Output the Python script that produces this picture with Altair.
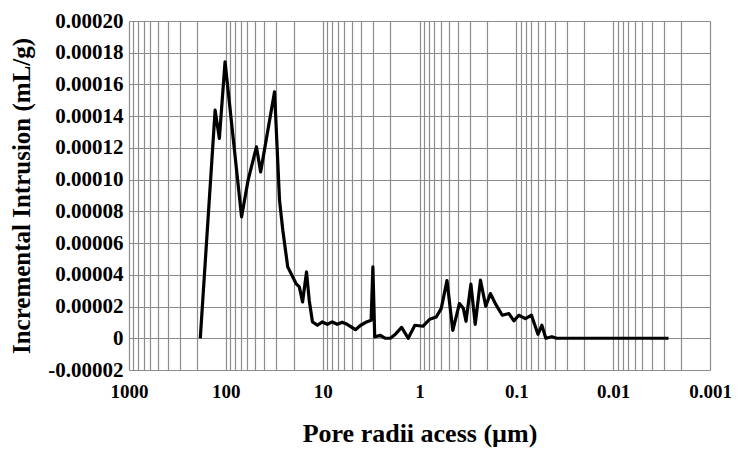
import altair as alt
import pandas as pd

# Pore radius (µm) and incremental intrusion (mL/g)
radius = [183.6, 129.0, 116.6, 101.9, 68.8, 58.9, 48.3, 43.7, 31.4, 27.9,
          25.8, 22.96, 18.84, 17.43, 16.13, 14.68, 13.77, 12.74, 11.33, 10.07,
          8.95, 7.96, 7.07, 6.29, 5.59, 4.59, 4.05, 3.52, 3.16, 3.03,
          2.90, 2.55, 2.25, 2.0, 1.776, 1.531, 1.308, 1.117, 0.919, 0.785,
          0.672, 0.597, 0.520, 0.453, 0.387, 0.352, 0.331, 0.2946, 0.2657, 0.2345,
          0.207, 0.1853, 0.1636, 0.1397, 0.1193, 0.1061, 0.0943, 0.0807, 0.0698, 0.0598,
          0.0545, 0.0496, 0.0430, 0.0383, 0.00268]
intrusion = [0.0, 0.0001438, 0.000126, 0.0001743, 0.0000765, 0.0000997, 0.0001207, 0.0001049, 0.0001554, 0.0000871,
             0.0000681, 0.000045, 0.0000345, 0.0000324, 0.0000229, 0.0000418, 0.000024, 0.0000103, 0.0000082, 0.0000103,
             0.0000088, 0.0000103, 0.0000088, 0.0000101, 0.0000088, 0.0000054, 0.0000082, 0.0000103, 0.0000114, 0.000045,
             0.0000008, 0.0000019, 0.0, 0.0, 0.0000025, 0.0000069, 0.0, 0.0000082, 0.0000076, 0.000012,
             0.0000134, 0.0000187, 0.0000363, 0.000005, 0.0000219, 0.0000187, 0.0000107, 0.0000341, 0.0000088, 0.0000366,
             0.0000202, 0.0000282, 0.0000215, 0.0000145, 0.0000156, 0.000011, 0.0000145, 0.0000124, 0.0000145, 0.0000025,
             0.0000082, 0.0, 0.000001, 0.0, 0.0]

y_ticks = [-0.00002, 0.0, 0.00002, 0.00004, 0.00006, 0.00008, 0.0001,
           0.00012, 0.00014, 0.00016, 0.00018, 0.0002]
decades = [1000, 100, 10, 1, 0.1, 0.01, 0.001]

x_grid = [1000.0] + [round(m * 10.0 ** k, 10) for k in range(-3, 3) for m in range(1, 10)]

df = pd.DataFrame({"r": radius, "v": intrusion, "order": list(range(len(radius)))})

font = "Liberation Serif"
grid_color = "#8c8c8c"

chart = alt.Chart(df).mark_line(color="black", strokeWidth=3.2, strokeJoin="round").encode(
    x=alt.X("r:Q",
            scale=alt.Scale(type="log", domain=[0.001, 1000], reverse=True, nice=False),
            axis=alt.Axis(values=x_grid, title="Pore radii acess (µm)",
                          labelExpr="indexof([1000,100,10,1,0.1,0.01,0.001], datum.value) >= 0 ? format(datum.value, '~g') : ''",
                          labelOverlap=False, labelFlush=False, ticks=False, domain=False,
                          grid=True, gridColor=grid_color, gridWidth=1.2,
                          labelFont=font, labelFontSize=19, labelFontWeight="bold", labelColor="black",
                          labelPadding=12,
                          titleFont=font, titleFontSize=26, titleFontWeight="bold", titleColor="black",
                          titlePadding=19)),
    y=alt.Y("v:Q",
            scale=alt.Scale(domain=[-0.00002, 0.0002], nice=False, zero=False),
            axis=alt.Axis(values=y_ticks, title="Incremental Intrusion (mL/g)",
                          labelExpr="datum.value == 0 ? '0' : (datum.value < 0 ? '-' + format(-datum.value, '.5f') : format(datum.value, '.5f'))",
                          labelOverlap=False, ticks=False, domain=False,
                          grid=True, gridColor=grid_color, gridWidth=1.2,
                          labelFont=font, labelFontSize=21, labelFontWeight="bold", labelColor="black",
                          labelPadding=6,
                          titleFont=font, titleFontSize=25, titleFontWeight="bold", titleColor="black",
                          titlePadding=13)),
    order="order:Q",
).properties(
    width=581, height=349,
    autosize=alt.AutoSizeParams(type="none"),
    padding={"left": 121, "top": 13, "right": 21, "bottom": 79},
).configure_view(stroke="#8c8c8c", strokeWidth=1.5).configure(background="white")

chart.save("out.html", embed_options={"renderer": "svg", "actions": False})
